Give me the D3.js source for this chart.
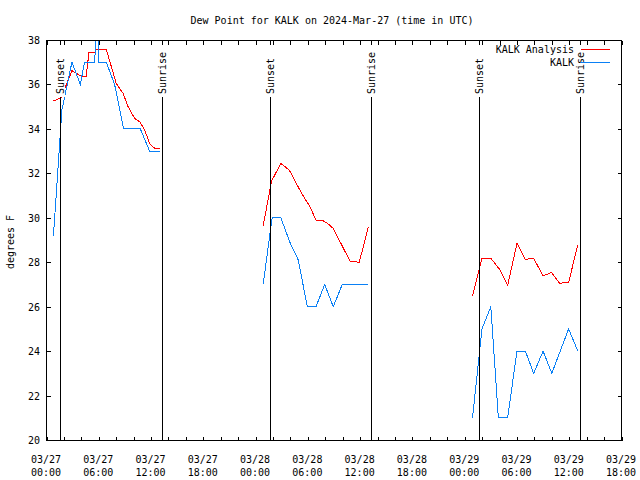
<!DOCTYPE html>
<html><head><meta charset="utf-8">
<script src="https://cdn.jsdelivr.net/npm/d3@7"></script>
<style>
body{margin:0;background:#fff}
svg{display:block}
text{font-family:"DejaVu Sans Mono",monospace;font-size:10px;fill:#000}
</style>
</head><body>
<svg id="c" width="640" height="480"></svg>
<script>
const chartTitle = "Dew Point for KALK on 2024-Mar-27 (time in UTC)";
const yTitle = "degrees F";
const seriesNames = ["KALK Analysis", "KALK"];
const seriesColors = ["#ff0000", "#0a80f5"];
const xStart = "2024-03-27T00:00Z";
const xEnd = "2024-03-29T18:00Z";
const yTicks = [20, 22, 24, 26, 28, 30, 32, 34, 36, 38];

// KALK Analysis (null = gap)
const analysisTimes = [
  "2024-03-27T00:48Z","2024-03-27T01:41Z","2024-03-27T02:55Z","2024-03-27T03:25Z","2024-03-27T03:59Z",
  "2024-03-27T04:34Z","2024-03-27T04:52Z","2024-03-27T05:31Z","2024-03-27T05:43Z","2024-03-27T06:52Z",
  "2024-03-27T08:00Z","2024-03-27T08:47Z","2024-03-27T09:22Z","2024-03-27T10:06Z","2024-03-27T10:42Z",
  "2024-03-27T11:16Z","2024-03-27T11:50Z","2024-03-27T12:24Z","2024-03-27T13:00Z",
  null,
  "2024-03-28T00:52Z","2024-03-28T01:50Z","2024-03-28T02:54Z","2024-03-28T03:22Z","2024-03-28T03:52Z",
  "2024-03-28T05:17Z","2024-03-28T06:14Z","2024-03-28T06:56Z","2024-03-28T07:46Z","2024-03-28T08:21Z",
  "2024-03-28T08:55Z","2024-03-28T10:50Z","2024-03-28T11:54Z","2024-03-28T12:57Z",
  null,
  "2024-03-29T00:54Z","2024-03-29T01:59Z","2024-03-29T03:00Z","2024-03-29T04:00Z","2024-03-29T04:56Z",
  "2024-03-29T06:00Z","2024-03-29T06:58Z","2024-03-29T07:55Z","2024-03-29T09:00Z","2024-03-29T09:57Z",
  "2024-03-29T10:54Z","2024-03-29T11:56Z","2024-03-29T12:59Z"
];
const analysisValues = [
  35.26,35.40,36.62,36.50,36.38,
  36.38,37.43,37.43,37.58,37.58,
  36.05,35.60,35.00,34.48,34.32,
  33.95,33.35,33.13,33.10,
  null,
  29.63,31.65,32.45,32.30,32.15,
  31.10,30.50,29.90,29.86,29.72,
  29.52,28.05,28.00,29.60,
  null,
  26.50,28.18,28.18,27.68,26.96,
  28.85,28.13,28.18,27.38,27.54,
  27.05,27.10,28.78
];

// KALK observations (null = gap)
const obsTimes = [
  "2024-03-27T00:48Z","2024-03-27T01:46Z","2024-03-27T02:55Z","2024-03-27T03:53Z","2024-03-27T04:22Z",
  "2024-03-27T05:31Z","2024-03-27T05:49Z","2024-03-27T06:01Z","2024-03-27T06:52Z","2024-03-27T07:49Z",
  "2024-03-27T08:51Z","2024-03-27T10:46Z","2024-03-27T11:50Z","2024-03-27T13:00Z",
  null,
  "2024-03-28T00:52Z","2024-03-28T01:54Z","2024-03-28T02:54Z","2024-03-28T03:56Z","2024-03-28T04:54Z",
  "2024-03-28T05:56Z","2024-03-28T06:56Z","2024-03-28T07:56Z","2024-03-28T08:55Z","2024-03-28T09:57Z",
  "2024-03-28T10:55Z","2024-03-28T11:55Z","2024-03-28T12:57Z",
  null,
  "2024-03-29T00:54Z","2024-03-29T01:59Z","2024-03-29T03:00Z","2024-03-29T03:52Z","2024-03-29T04:56Z",
  "2024-03-29T06:00Z","2024-03-29T06:58Z","2024-03-29T07:55Z","2024-03-29T09:00Z","2024-03-29T10:00Z",
  "2024-03-29T10:58Z","2024-03-29T11:56Z","2024-03-29T12:59Z"
];
const obsValues = [
  29.2,34.85,37,36,37,
  37,39,37,37,36,
  34,34,33,33,
  null,
  27,30,30,28.9,28.1,
  26,26,27,26,27,
  27,27,27,
  null,
  21,25,26,21,21,
  24,24,23,24,23,
  24,25,24
];

const sunsetTimes = ["2024-03-27T01:36Z","2024-03-28T01:36Z","2024-03-29T01:36Z"];
const sunriseTimes = ["2024-03-27T13:18Z","2024-03-28T13:18Z","2024-03-29T13:17Z"];

const W = 640, H = 480;
const m = {left: 46.5, right: 621.5, top: 40, bottom: 440};
const svg = d3.select("#c");
const parse = s => s === null ? null : new Date(s);

const x = d3.scaleUtc().domain([parse(xStart), parse(xEnd)]).range([m.left, m.right]);
const y = d3.scaleLinear().domain([20, 38]).range([m.bottom, m.top]);

svg.append("rect").attr("width", W).attr("height", H).attr("fill", "#fff");

svg.append("defs").append("clipPath").attr("id", "plot")
  .append("rect").attr("x", m.left).attr("y", m.top)
  .attr("width", m.right - m.left).attr("height", m.bottom - m.top);

// ticks (every 2 hours, mirrored)
const tick2h = d3.utcHour.every(2).range(parse(xStart), new Date(+parse(xEnd) + 1));
const axB = d3.axisBottom(x).tickValues(tick2h).tickSize(-4).tickFormat("");
const axT = d3.axisTop(x).tickValues(tick2h).tickSize(-4).tickFormat("");
const gB = svg.append("g").attr("transform", `translate(0,${m.bottom + 0.5})`).call(axB);
const gT = svg.append("g").attr("transform", `translate(0,${m.top + 0.5})`).call(axT);
const axL = d3.axisLeft(y).tickValues(yTicks).tickSize(-4).tickPadding(6.5).tickFormat(d3.format("d"));
const axR = d3.axisRight(y).tickValues(yTicks).tickSize(-4).tickFormat("");
const gL = svg.append("g").attr("transform", `translate(${m.left},0)`).call(axL);
const gR = svg.append("g").attr("transform", `translate(${m.right},0)`).call(axR);
[gB, gT, gL, gR].forEach(g => {
  g.select(".domain").remove();
  g.selectAll("line").attr("stroke", "#000").attr("shape-rendering", "crispEdges");
  g.selectAll("text").attr("font-family", "DejaVu Sans Mono").attr("font-size", 10).attr("fill", "#000");
});
gL.selectAll(".tick text").attr("dy", "0.35em");

// x labels every 6h (two lines)
const tick6h = d3.utcHour.every(6).range(parse(xStart), new Date(+parse(xEnd) + 1));
const fmtD = d3.utcFormat("%m/%d"), fmtT = d3.utcFormat("%H:%M");
const xl = svg.append("g").selectAll("text").data(tick6h).join("text")
  .attr("text-anchor", "middle")
  .attr("x", d => x(d) - 0.5);
xl.append("tspan").attr("x", d => x(d) - 0.5).attr("y", m.bottom + 22.5).text(d => fmtD(d));
xl.append("tspan").attr("x", d => x(d) - 0.5).attr("y", m.bottom + 36).text(d => fmtT(d));

// data lines
function buildPoints(times, values) {
  return times.map((t, i) => ({t: parse(t), v: values[i]}));
}
const line = d3.line().defined(d => d.t !== null && d.v !== null)
  .x(d => x(d.t)).y(d => y(d.v));
const gData = svg.append("g").attr("clip-path", "url(#plot)");
[[analysisTimes, analysisValues], [obsTimes, obsValues]].forEach(([t, v], i) => {
  gData.append("path").datum(buildPoints(t, v))
    .attr("d", line).attr("fill", "none")
    .attr("stroke", seriesColors[i]).attr("stroke-width", 1)
    .attr("shape-rendering", "crispEdges");
});

// sunrise/sunset markers
const events = sunsetTimes.map(t => ({t: parse(t), label: "Sunset"}))
  .concat(sunriseTimes.map(t => ({t: parse(t), label: "Sunrise"})));
const gEv = svg.append("g");
events.forEach(e => {
  const ex = Math.round(x(e.t)) + 0.5;
  gEv.append("line").attr("x1", ex).attr("x2", ex).attr("y1", m.top).attr("y2", m.bottom)
    .attr("stroke", "#000").attr("stroke-width", 1).attr("shape-rendering", "crispEdges");
  gEv.append("rect").attr("x", ex - 4.5).attr("width", 9)
    .attr("y", m.top + 5).attr("height", 52).attr("fill", "#fff");
  gEv.append("text").attr("transform", `translate(${ex + 3.5},${m.top + 54}) rotate(-90)`)
    .attr("text-anchor", "start").text(e.label);
});

// border
svg.append("rect").attr("x", m.left).attr("y", m.top + 0.5)
  .attr("width", m.right - m.left).attr("height", m.bottom - m.top)
  .attr("fill", "none").attr("stroke", "#000").attr("shape-rendering", "crispEdges");

// titles
svg.append("text").attr("x", (m.left + m.right) / 2 - 2).attr("y", 24)
  .attr("text-anchor", "middle").text(chartTitle);
svg.append("text").attr("transform", `translate(13.5,${(m.top + m.bottom) / 2 + 2}) rotate(-90)`)
  .attr("text-anchor", "middle").text(yTitle);

// legend
const lg = svg.append("g");
seriesNames.forEach((n, i) => {
  const ly = m.top + 9.5 + i * 13;
  lg.append("text").attr("x", 574).attr("y", ly + 3.5).attr("text-anchor", "end").text(n);
  lg.append("line").attr("x1", 581).attr("x2", 610).attr("y1", ly).attr("y2", ly)
    .attr("stroke", seriesColors[i]).attr("shape-rendering", "crispEdges");
});
</script>
</body></html>
